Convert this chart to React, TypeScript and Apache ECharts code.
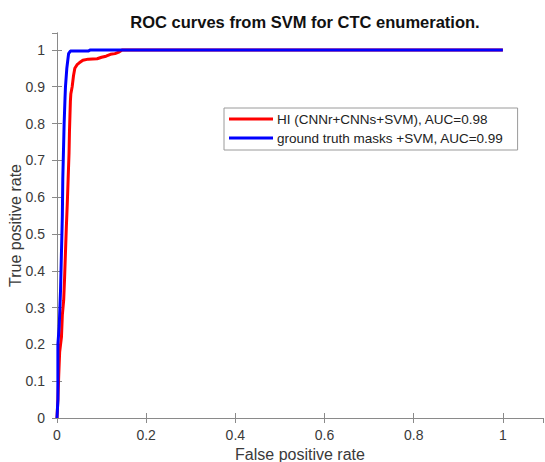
import React, { useEffect, useRef } from "react";
import * as echarts from "echarts";

const titleText = "ROC curves from SVM for CTC enumeration.";
const xName = "False positive rate";
const yName = "True positive rate";
const seriesNames = ["HI (CNNr+CNNs+SVM), AUC=0.98", "ground truth masks +SVM, AUC=0.99"];

// [FPR, TPR]
const redCurve: [number, number][] = [
  [0, 0], [0.002, 0.05], [0.004, 0.12], [0.006, 0.18], [0.008, 0.2], [0.01, 0.22],
  [0.012, 0.28], [0.015, 0.32], [0.017, 0.38], [0.019, 0.45], [0.021, 0.52],
  [0.023, 0.58], [0.025, 0.65], [0.027, 0.72], [0.028, 0.78], [0.029, 0.82],
  [0.03, 0.86], [0.031, 0.88], [0.034, 0.9], [0.037, 0.93], [0.04, 0.95],
  [0.045, 0.96], [0.05, 0.965], [0.058, 0.972], [0.07, 0.975], [0.09, 0.976],
  [0.1, 0.98], [0.11, 0.983], [0.12, 0.988], [0.13, 0.99], [0.14, 0.995],
  [0.146, 1], [1, 1],
];

const blueCurve: [number, number][] = [
  [0, 0], [0.002, 0.05], [0.002, 0.2], [0.005, 0.25], [0.008, 0.35], [0.01, 0.45],
  [0.012, 0.55], [0.013, 0.65], [0.014, 0.7], [0.016, 0.8], [0.018, 0.87],
  [0.019, 0.9], [0.022, 0.95], [0.024, 0.97], [0.026, 0.99], [0.03, 0.997],
  [0.07, 0.997], [0.075, 1], [1, 1],
];

const FONT = "'Liberation Sans', Arial, Helvetica, sans-serif";
const AXIS_COLOR = "#8a8a8a";
const LABEL_COLOR = "#3a3a3a";

export default function App() {
  const ref = useRef<HTMLDivElement>(null);
  useEffect(() => {
    if (!ref.current) return;
    const chart = echarts.init(ref.current, undefined, { renderer: "svg" });
    const xBase = {
      type: "value" as const,
      min: 0,
      max: 1.09,
      interval: 0.2,
      splitLine: { show: false },
      axisLine: { show: true, lineStyle: { color: AXIS_COLOR, width: 1 } },
      axisTick: { show: true, inside: true, length: 5, lineStyle: { color: AXIS_COLOR } },
    };
    const yBase = {
      type: "value" as const,
      min: 0,
      max: 1.046,
      interval: 0.1,
      splitLine: { show: false },
      axisLine: { show: true, lineStyle: { color: AXIS_COLOR, width: 1 } },
      axisTick: { show: true, inside: true, length: 5, lineStyle: { color: AXIS_COLOR } },
    };
    chart.setOption({
      animation: false,
      backgroundColor: "#ffffff",
      textStyle: { fontFamily: FONT },
      title: {
        text: titleText,
        left: 300,
        textAlign: "center",
        top: 8,
        textStyle: { fontFamily: FONT, fontSize: 16.5, fontWeight: "bold", color: "#111" },
      },
      grid: { left: 57, right: 2, top: 33, bottom: 44, containLabel: false, outerBoundsMode: "none" },
      legend: {
        orient: "vertical",
        left: 224,
        top: 108,
        backgroundColor: "#ffffff",
        borderColor: "#9a9a9a",
        borderWidth: 1,
        padding: [4, 14, 5, 5],
        itemGap: 5,
        itemWidth: 44,
        itemHeight: 3,
        icon: "rect",
        textStyle: { fontFamily: FONT, fontSize: 13.5, color: "#222", padding: [0, 0, 0, -1] },
        data: seriesNames,
      },
      xAxis: [
        {
          ...xBase,
          position: "bottom",
          name: xName,
          nameLocation: "middle",
          nameGap: 28,
          nameMoveOverlap: false,
          nameTextStyle: { fontFamily: FONT, fontSize: 16, color: LABEL_COLOR },
          axisLabel: { fontFamily: FONT, fontSize: 14, color: LABEL_COLOR, margin: 10, showMaxLabel: false },
        },
        {
          ...xBase,
          position: "top",
          axisLabel: { show: false },
        },
      ],
      yAxis: [
        {
          ...yBase,
          position: "left",
          name: yName,
          nameLocation: "middle",
          nameGap: 34,
          nameMoveOverlap: false,
          nameTextStyle: { fontFamily: FONT, fontSize: 16, color: LABEL_COLOR },
          axisLabel: { fontFamily: FONT, fontSize: 14, color: LABEL_COLOR, margin: 12, showMaxLabel: false },
        },
        {
          ...yBase,
          position: "right",
          axisLabel: { show: false },
        },
      ],
      series: [
        {
          name: seriesNames[0],
          type: "line",
          xAxisIndex: 0,
          yAxisIndex: 0,
          data: redCurve,
          showSymbol: false,
          symbol: "none",
          lineStyle: { color: "#ff0000", width: 3 },
          itemStyle: { color: "#ff0000" },
        },
        {
          name: seriesNames[1],
          type: "line",
          xAxisIndex: 0,
          yAxisIndex: 0,
          data: blueCurve,
          showSymbol: false,
          symbol: "none",
          lineStyle: { color: "#0000ff", width: 3 },
          itemStyle: { color: "#0000ff" },
        },
      ],
    });
    return () => chart.dispose();
  }, []);
  return <div ref={ref} style={{ width: 545, height: 462, position: "absolute", left: 0, top: 0 }} />;
}
